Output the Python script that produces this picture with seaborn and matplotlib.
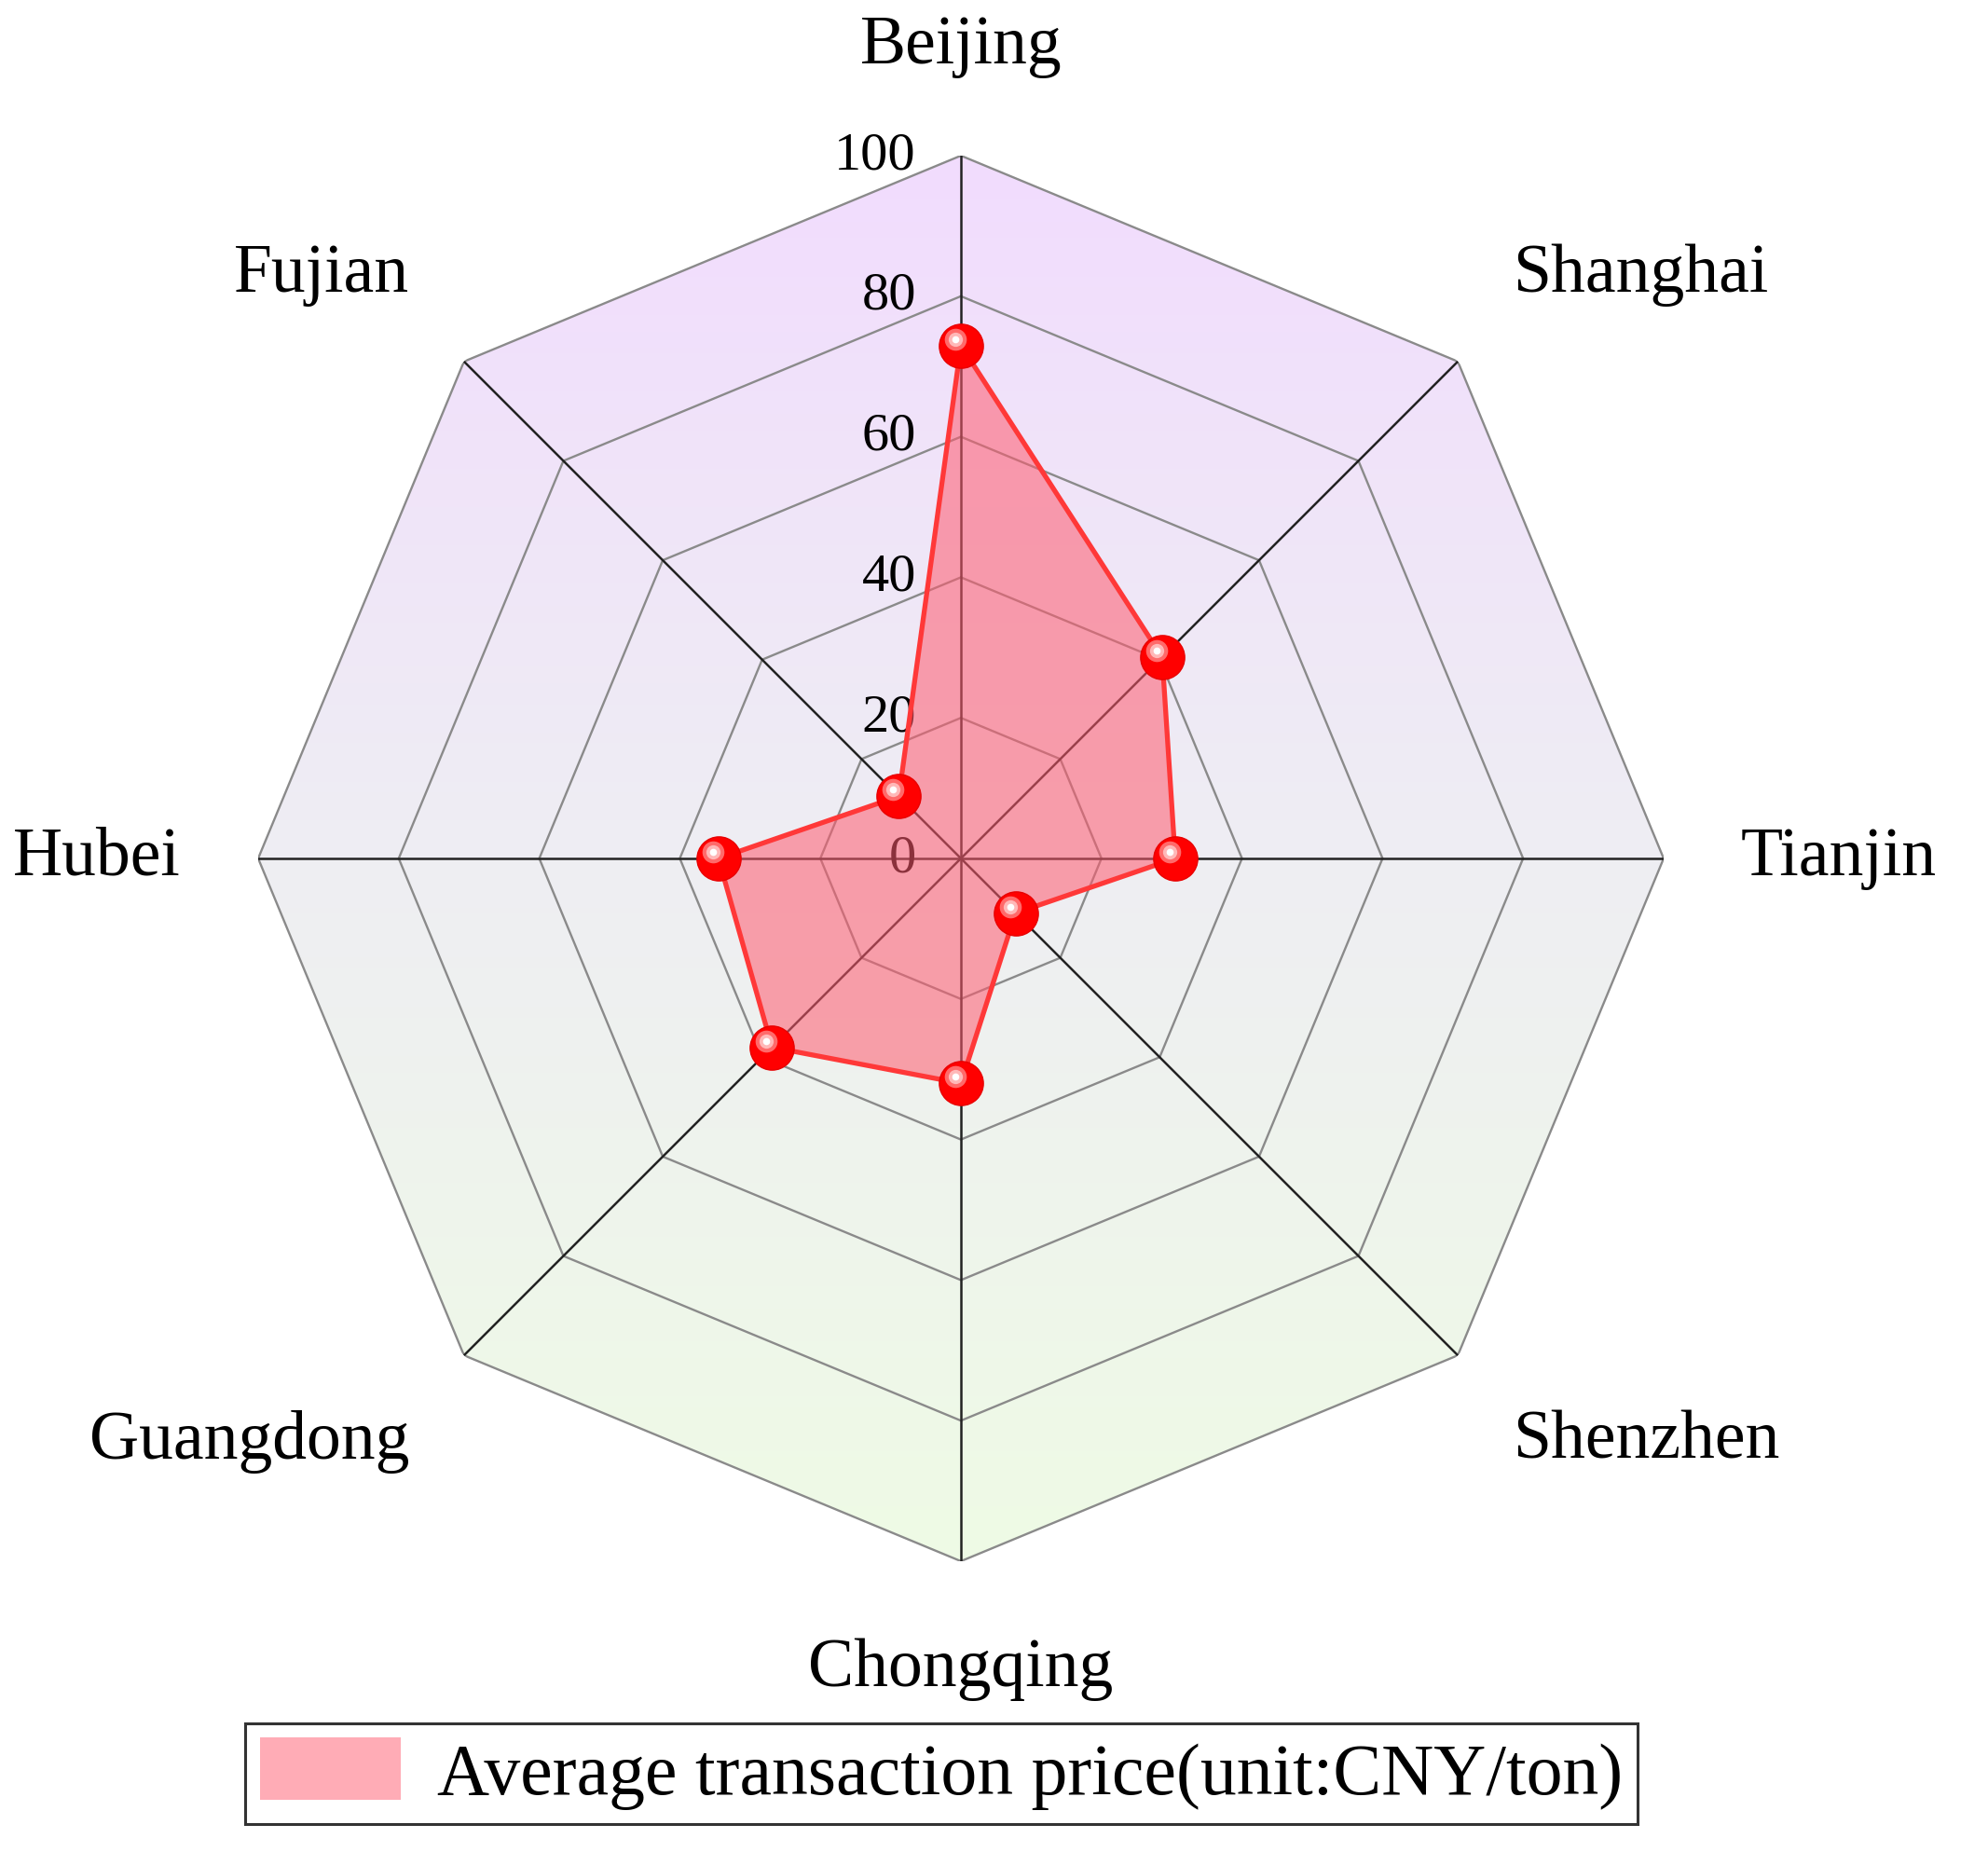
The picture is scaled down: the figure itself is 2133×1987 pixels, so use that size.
import numpy as np
import matplotlib
matplotlib.use("Agg")
import matplotlib.pyplot as plt
import matplotlib.transforms as mtransforms
from matplotlib.patches import Polygon
from matplotlib.colors import LinearSegmentedColormap
import seaborn as sns

# ---- data ----
cities = ['Beijing', 'Shanghai', 'Tianjin', 'Shenzhen',
          'Chongqing', 'Guangdong', 'Hubei', 'Fujian']
avg_price = [73, 40.5, 30.5, 11, 32, 38, 34.5, 12.5]
ring_ticks = [0, 20, 40, 60, 80, 100]
legend_label = 'Average transaction price(unit:CNY/ton)'

sns.set_theme(style="white")
plt.rcParams['font.family'] = ['Liberation Serif', 'DejaVu Serif']

W, H = 2133, 1987
fig = plt.figure(figsize=(W / 100, H / 100), dpi=100)

# axes box: centre (1031, 921) px, radius 754 px
cx, cy, R = 1031, 921, 754
rect = [(cx - R) / W, (H - cy - R) / H, 2 * R / W, 2 * R / H]

n = len(cities)
angles = np.arange(n) * 2 * np.pi / n
closed_ang = np.append(angles, angles[0])

# ---- gradient background, clipped to the octagon ----
bg = fig.add_axes(rect)
bg.set_xlim(-100, 100)
bg.set_ylim(-100, 100)
bg.axis('off')
cmap = LinearSegmentedColormap.from_list(
    'bg', ['#EEFBE5', '#EEEEF3', '#F2DCFE'])
grad = np.linspace(0, 1, 256).reshape(-1, 1)
img = bg.imshow(grad, extent=(-100, 100, -100, 100), origin='lower',
                cmap=cmap, aspect='auto', zorder=0)
octagon = Polygon(np.column_stack([100 * np.sin(angles), 100 * np.cos(angles)]),
                  closed=True, transform=bg.transData)
img.set_clip_path(octagon)

# ---- radar ----
ax = fig.add_axes(rect, projection='polar')
ax.patch.set_alpha(0)
ax.set_theta_zero_location('N')
ax.set_theta_direction(-1)
ax.set_ylim(0, 100)
ax.grid(False)
ax.spines['polar'].set_visible(False)
ax.set_xticks([])
ax.set_yticks([])

for r in ring_ticks[1:]:
    ax.plot(closed_ang, [r] * (n + 1), color='#8a8a8a', lw=1.7, zorder=1)
for a in angles:
    ax.plot([a, a], [0, 100], color='#222222', lw=1.8, zorder=1)

tick_tr = mtransforms.offset_copy(ax.transData, fig=fig, x=-48, y=0, units='dots')
for r in ring_ticks:
    ax.text(0, r, str(r), transform=tick_tr, ha='right', va='center',
            fontsize=42, color='black', zorder=1)

vals = np.append(avg_price, avg_price[0])
fill = ax.fill(closed_ang, vals, color='#FF5A6E', alpha=0.55, lw=0,
               zorder=2, label=legend_label)
ax.plot(closed_ang, vals, color='#FF3838', lw=3.8, zorder=3)
ax.plot(angles, avg_price, 'o', ms=34, color='#FF0000', mec='#E80000',
        mew=1, zorder=4)
hl1 = mtransforms.offset_copy(ax.transData, fig=fig, x=-6, y=7, units='dots')
ax.plot(angles, avg_price, 'o', ms=17, color='#FF6A6A', mec='none',
        transform=hl1, zorder=5)
ax.plot(angles, avg_price, 'o', ms=11, color='#FFB8B8', mec='none',
        transform=hl1, zorder=6)
ax.plot(angles, avg_price, 'o', ms=5.5, color='#FFFFFF', mec='none',
        transform=hl1, zorder=7)

# ---- category labels ----
label_r = 111
for a, name in zip(angles, cities):
    s, c = np.sin(a), np.cos(a)
    ha = 'center' if abs(s) < 0.1 else ('left' if s > 0 else 'right')
    va = 'center' if abs(c) < 0.1 else ('bottom' if c > 0 else 'top')
    ax.text(a, label_r, name, ha=ha, va=va, fontsize=53, color='black',
            clip_on=False)

# ---- legend ----
leg = fig.legend(handles=fill, loc='center',
                 bbox_to_anchor=(1010 / W, 1 - 1903 / H),
                 fontsize=56, frameon=True, fancybox=False,
                 handlelength=1.95, handleheight=0.95, handletextpad=0.5,
                 borderpad=0.2, borderaxespad=0)
leg.get_frame().set_edgecolor('black')
leg.get_frame().set_linewidth(2.2)
leg.legend_handles[0].set_edgecolor('#e08a8a')
leg.legend_handles[0].set_alpha(0.5)
for t in leg.get_texts():
    t.set_color('black')

fig.savefig('out.png', dpi=100)
